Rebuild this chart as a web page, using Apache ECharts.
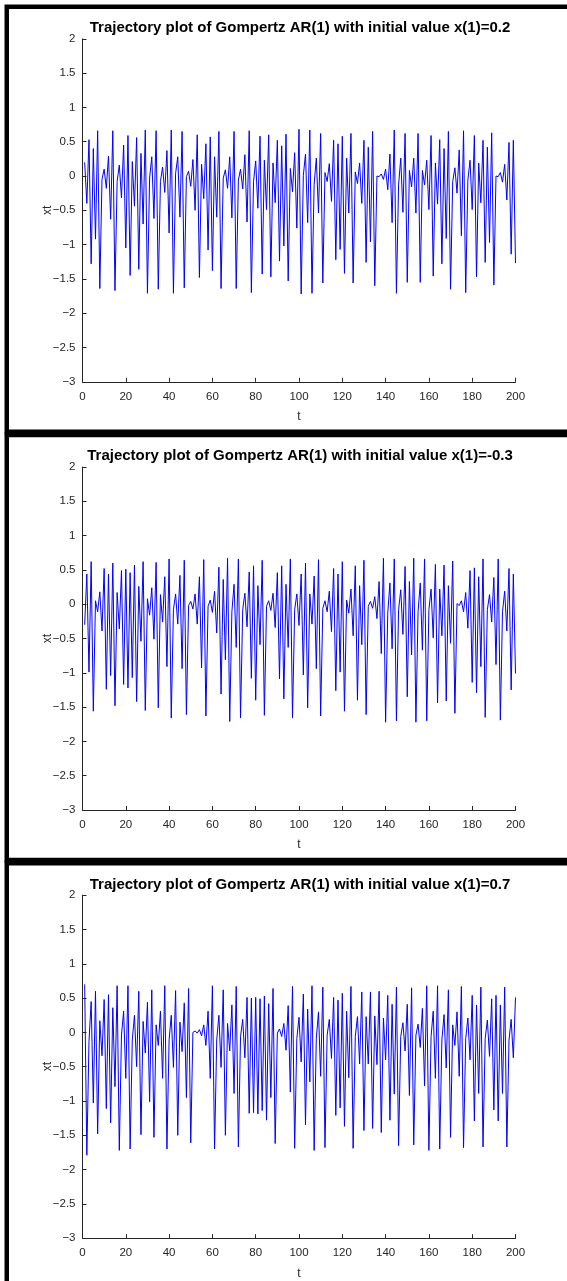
<!DOCTYPE html>
<html>
<head>
<meta charset="utf-8">
<script src="https://cdn.jsdelivr.net/npm/echarts@6/dist/echarts.min.js"></script>
<style>
  html, body { margin: 0; padding: 0; background: #fff; }
  #main { width: 567px; height: 1281px; }
</style>
</head>
<body>
<div id="main"></div>
<script>
// trajectory values, t = 1..200
const xt02 = [
  0.2, -0.40, 0.53, -1.28, 0.40, -0.92, 0.66, -1.64, -0.05, 0.10,
  -0.18, 0.29, -0.63, 0.66, -1.67, -0.08, 0.16, -0.32, 0.45, -1.05,
  0.59, -1.45, 0.21, -0.44, 0.56, -1.36, 0.33, -0.70, 0.67, -1.71,
  -0.03, 0.28, -0.62, 0.66, -1.65, -0.08, 0.13, -0.24, 0.37, -0.83,
  0.67, -1.71, 0.04, 0.28, -0.60, 0.65, -1.63, -0.01, 0.07, -0.15,
  0.24, -0.50, 0.60, -1.48, 0.17, -0.33, 0.47, -1.08, 0.57, -1.38,
  0.28, -0.60, 0.65, -1.64, -0.03, 0.09, -0.18, 0.28, -0.61, 0.65,
  -1.64, -0.06, 0.10, -0.19, 0.31, -0.67, 0.66, -1.70, -0.08, 0.22,
  -0.47, 0.58, -1.43, 0.23, -0.49, 0.60, -1.47, 0.19, -0.39, 0.52,
  -1.24, 0.44, -1.02, 0.61, -1.53, 0.11, -0.23, 0.34, -0.76, 0.68,
  -1.72, 0.01, 0.32, -0.68, 0.67, -1.71, -0.12, 0.26, -0.54, 0.62,
  -1.56, 0.05, -0.08, 0.18, -0.37, 0.52, -1.22, 0.47, -1.07, 0.58,
  -1.42, 0.26, -0.54, 0.62, -1.56, 0.06, -0.11, 0.19, -0.40, 0.52,
  -1.26, 0.42, -0.96, 0.65, -1.60, 0.00, -0.01, 0.03, -0.05, 0.10,
  -0.20, 0.32, -0.68, 0.67, -1.71, -0.13, 0.26, -0.53, 0.62, -1.55,
  0.08, -0.16, 0.26, -0.54, 0.62, -1.55, 0.08, -0.13, 0.23, -0.49,
  0.59, -1.46, 0.19, -0.41, 0.53, -1.28, 0.40, -0.91, 0.65, -1.65,
  -0.08, 0.12, -0.25, 0.38, -0.87, 0.66, -1.70, -0.06, 0.23, -0.49,
  0.59, -1.47, 0.19, -0.39, 0.52, -1.26, 0.42, -0.97, 0.63, -1.59,
  0.00, -0.01, 0.05, -0.09, 0.17, -0.35, 0.49, -1.14, 0.52, -1.27
];
const xtM03 = [
  -0.30, 0.44, -0.99, 0.62, -1.56, 0.05, -0.11, 0.18, -0.39, 0.52,
  -1.24, 0.44, -1.04, 0.60, -1.48, 0.17, -0.36, 0.49, -1.17, 0.51,
  -1.22, 0.46, -1.07, 0.57, -1.42, 0.26, -0.54, 0.62, -1.55, 0.08,
  -0.16, 0.24, -0.51, 0.61, -1.51, 0.14, -0.26, 0.40, -0.91, 0.66,
  -1.66, -0.08, 0.15, -0.29, 0.42, -0.94, 0.64, -1.61, -0.02, 0.04,
  -0.07, 0.15, -0.29, 0.40, -0.93, 0.65, -1.63, -0.03, 0.06, -0.12,
  0.19, -0.42, 0.54, -1.31, 0.36, -0.81, 0.67, -1.71, -0.11, 0.29,
  -0.63, 0.66, -1.66, -0.08, 0.16, -0.33, 0.47, -1.08, 0.56, -1.40,
  0.27, -0.59, 0.64, -1.62, -0.03, 0.05, -0.09, 0.16, -0.34, 0.46,
  -1.09, 0.56, -1.38, 0.29, -0.63, 0.66, -1.66, -0.08, 0.15, -0.31,
  0.44, -1.03, 0.60, -1.51, 0.15, -0.29, 0.41, -0.94, 0.65, -1.63,
  -0.06, 0.05, -0.11, 0.19, -0.40, 0.52, -1.26, 0.44, -0.99, 0.62,
  -1.56, 0.06, -0.13, 0.22, -0.46, 0.56, -1.40, 0.27, -0.59, 0.64,
  -1.61, -0.03, 0.04, -0.06, 0.11, -0.21, 0.33, -0.72, 0.67, -1.72,
  -0.13, 0.31, -0.65, 0.66, -1.70, -0.08, 0.21, -0.44, 0.55, -1.35,
  0.33, -0.74, 0.67, -1.72, -0.11, 0.31, -0.67, 0.66, -1.70, -0.08,
  0.22, -0.49, 0.58, -1.44, 0.22, -0.46, 0.57, -1.41, 0.27, -0.57,
  0.63, -1.59, 0.01, -0.02, 0.05, -0.11, 0.17, -0.35, 0.49, -1.14,
  0.53, -1.29, 0.40, -0.91, 0.66, -1.65, -0.08, 0.14, -0.26, 0.39,
  -0.88, 0.66, -1.69, -0.11, 0.19, -0.39, 0.52, -1.25, 0.44, -1.01
];
const xt07 = [
  0.70, -1.79, -0.13, 0.45, -1.03, 0.60, -1.48, 0.17, -0.34, 0.48,
  -1.11, 0.55, -1.32, 0.36, -0.79, 0.68, -1.72, -0.04, 0.31, -0.67,
  0.68, -1.70, -0.11, 0.25, -0.50, 0.60, -1.49, 0.16, -0.30, 0.44,
  -1.01, 0.62, -1.53, 0.11, -0.19, 0.31, -0.67, 0.68, -1.70, -0.11,
  0.25, -0.51, 0.61, -1.50, 0.15, -0.28, 0.43, -0.95, 0.64, -1.61,
  0.00, 0.02, -0.01, 0.04, -0.05, 0.11, -0.19, 0.31, -0.67, 0.68,
  -1.70, -0.11, 0.25, -0.51, 0.62, -1.50, 0.13, -0.27, 0.40, -0.89,
  0.67, -1.67, -0.06, 0.19, -0.37, 0.51, -1.18, 0.50, -1.17, 0.51,
  -1.19, 0.49, -1.14, 0.53, -1.28, 0.42, -0.95, 0.64, -1.62, -0.01,
  0.05, -0.06, 0.13, -0.26, 0.39, -0.87, 0.67, -1.69, -0.09, 0.22,
  -0.43, 0.56, -1.35, 0.34, -0.72, 0.68, -1.72, -0.09, 0.30, -0.64,
  0.66, -1.68, -0.04, 0.19, -0.38, 0.51, -1.21, 0.47, -1.10, 0.57,
  -1.37, 0.31, -0.66, 0.67, -1.69, -0.06, 0.23, -0.46, 0.59, -1.43,
  0.23, -0.46, 0.59, -1.40, 0.24, -0.47, 0.60, -1.46, 0.21, -0.40,
  0.54, -1.28, 0.41, -0.90, 0.66, -1.65, -0.06, 0.14, -0.27, 0.41,
  -0.92, 0.65, -1.64, -0.04, 0.12, -0.22, 0.35, -0.78, 0.68, -1.72,
  -0.06, 0.31, -0.67, 0.68, -1.70, -0.11, 0.26, -0.52, 0.62, -1.53,
  0.11, -0.19, 0.30, -0.64, 0.67, -1.68, -0.09, 0.21, -0.40, 0.54,
  -1.29, 0.40, -0.89, 0.66, -1.67, -0.09, 0.18, -0.35, 0.49, -1.13,
  0.54, -1.29, 0.40, -0.89, 0.66, -1.67, -0.11, 0.19, -0.37, 0.51
];

const panels = [
  {title: 'Trajectory plot of Gompertz AR(1) with initial value x(1)=0.2', data: xt02},
  {title: 'Trajectory plot of Gompertz AR(1) with initial value x(1)=-0.3', data: xtM03},
  {title: 'Trajectory plot of Gompertz AR(1) with initial value x(1)=0.7', data: xt07}
];

const FONT = '"Liberation Sans", Arial, Helvetica, sans-serif';
const AX = '#262626';
const step = 428.2;
const gridTop = 38.8;
const gridH = 343;

const chart = echarts.init(document.getElementById('main'));

const grid = [], xAxis = [], yAxis = [], series = [], graphic = [];
panels.forEach((p, i) => {
  const off = i * step;
  grid.push({left: 82.5, right: 51.5, top: gridTop + off, height: gridH});
  xAxis.push({
    gridIndex: i, type: 'value', min: 0, max: 200, interval: 20,
    name: 't', nameLocation: 'middle', nameGap: 29, nameMoveOverlap: false,
    nameTextStyle: {color: AX, fontSize: 12, fontFamily: FONT},
    axisLine: {onZero: false, lineStyle: {color: AX, width: 1}},
    axisTick: {inside: true, length: 4, lineStyle: {color: AX}},
    axisLabel: {color: AX, fontSize: 11.5, fontFamily: FONT, margin: 9},
    splitLine: {show: false}
  });
  yAxis.push({
    gridIndex: i, type: 'value', min: -3, max: 2, interval: 0.5,
    name: 'xt', nameLocation: 'middle', nameGap: 29, nameMoveOverlap: false,
    nameTextStyle: {color: AX, fontSize: 12, fontFamily: FONT},
    axisLine: {show: true, onZero: false, lineStyle: {color: AX, width: 1}},
    axisTick: {show: true, inside: true, length: 4, lineStyle: {color: AX}},
    axisLabel: {
      color: AX, fontSize: 11.5, fontFamily: FONT, margin: 7,
      formatter: v => String(v).replace('-', '\u2212')
    },
    splitLine: {show: false}
  });
  series.push({
    type: 'line', xAxisIndex: i, yAxisIndex: i,
    data: p.data.map((v, k) => [k + 1, v]),
    symbol: 'none',
    lineStyle: {color: '#0000ff', width: 1},
    animation: false
  });
  graphic.push({
    type: 'text', x: 300, y: 28 + off,
    style: {text: p.title, font: 'bold 15px ' + FONT, fill: '#000', align: 'center', verticalAlign: 'middle'}
  });
  graphic.push({
    type: 'rect',
    shape: {x: 6.75, y: 6.75 + off, width: 600, height: 425},
    style: {fill: 'none', stroke: '#000', lineWidth: 4.5}
  });
});

chart.setOption({
  animation: false,
  grid: grid,
  xAxis: xAxis,
  yAxis: yAxis,
  series: series,
  graphic: graphic
});
</script>
</body>
</html>
